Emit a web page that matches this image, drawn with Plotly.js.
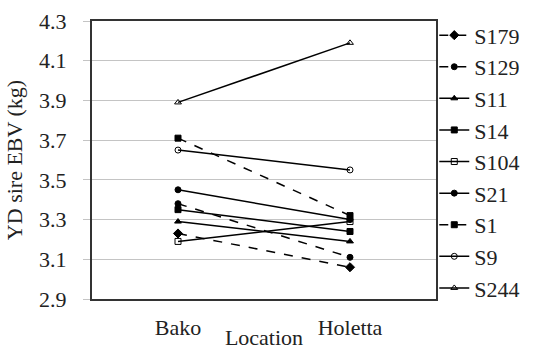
<!DOCTYPE html>
<html><head><meta charset="utf-8">
<script src="https://cdn.plot.ly/plotly-3.0.1.min.js"></script>
<style>body{margin:0;background:#fff}#c{width:537px;height:350px}</style>
</head><body><div id="c"></div>
<script>
var locations = ["Bako", "Holetta"];
var sires = ["S179", "S129", "S11", "S14", "S104", "S21", "S1", "S9", "S244"];
var S179 = [3.23, 3.06];
var S129 = [3.38, 3.11];
var S11 = [3.29, 3.19];
var S14 = [3.35, 3.24];
var S104 = [3.19, 3.29];
var S21 = [3.45, 3.30];
var S1 = [3.71, 3.32];
var S9 = [3.65, 3.55];
var S244 = [3.89, 4.19];
var values = [S179, S129, S11, S14, S104, S21, S1, S9, S244];
var symbols = ["diamond", "circle", "triangle-up", "square", "square-open", "circle", "square", "circle-open", "triangle-up-open"];
var dashes = ["dash", "dash", "solid", "solid", "solid", "solid", "dash", "solid", "solid"];
var traces = sires.map(function(s, i){
  return {x: locations, y: values[i], name: s, legendgroup: s, type: "scatter", mode: "lines+markers",
    line: {color: "#000", width: 1.5, dash: dashes[i]},
    marker: {symbol: symbols[i], size: symbols[i]==="diamond"?7:6, color: "#000", line: {color: "#000", width: 1}}};
});
var FONT = "Liberation Serif";
var FS = 22;
var layout = {
  width: 537, height: 350,
  margin: {l: 92, r: 83, t: 21, b: 51},
  paper_bgcolor: "#fff", plot_bgcolor: "#fff",
  font: {family: FONT, size: FS, color: "#222"},
  showlegend: true,
  legend: {x: 0.995, xanchor: "left", y: 1.024, yanchor: "top", font: {family: FONT, size: FS, color: "#222"},
    itemwidth: 30, tracegroupgap: 0, maxheight: 345, bgcolor: "rgba(0,0,0,0)"},
  xaxis: {type: "category", range: [-0.5, 1.5], showline: true, mirror: true, linecolor: "#333", linewidth: 2,
    showgrid: false, ticks: "outside", ticklen: 8, tickcolor: "rgba(0,0,0,0)",
    title: {text: "Location", standoff: 5, font: {family: FONT, size: FS}}, tickfont: {family: FONT, size: FS}, zeroline: false},
  yaxis: {range: [2.9, 4.3], dtick: 0.2, tick0: 2.9, showline: true, mirror: true, linecolor: "#333", linewidth: 2,
    gridcolor: "#c4c4c4", gridwidth: 1, ticks: "outside", ticklen: 7, tickcolor: "#c4c4c4", tickformat: ".1f",
    ticklabelstandoff: 12,
    title: {text: "YD sire EBV (kg)", standoff: 10, font: {family: FONT, size: FS}}, tickfont: {family: FONT, size: FS}, zeroline: false}
};
Plotly.newPlot("c", traces, layout, {displayModeBar: false, staticPlot: true});
</script></body></html>
